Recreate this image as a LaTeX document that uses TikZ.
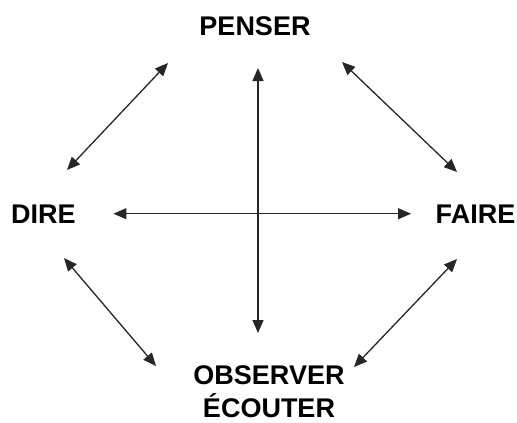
\documentclass[tikz,border=0pt]{standalone}
\usepackage{fontspec}
\setmainfont{Liberation Sans}
\usetikzlibrary{arrows.meta}

\begin{document}
\begin{tikzpicture}[x=1pt, y=-1pt,
    word/.style={font=\fontsize{27}{33}\selectfont\bfseries, inner sep=0pt, anchor=base, align=center},
    link/.style={line width=1.3pt, black!85, {Triangle[length=13pt,width=11pt]}-{Triangle[length=13pt,width=11pt]}}]
                    \useasboundingbox (0,0) rectangle (517,423);

                    \node[word] (penser) at (255,35) {PENSER};
                    \node[word] (dire) at (43.5,223) {DIRE};
                    \node[word] (faire) at (475.5,223) {FAIRE};
                    \node[word] (observer) at (269,417) {OBSERVER\\ÉCOUTER};

                    \coordinate (vtop) at (258,68);
                    \coordinate (vbot) at (258,333);
                    \coordinate (dp1) at (67,170);
                    \coordinate (dp2) at (168,63);
                    \coordinate (pf1) at (342,62);
                    \coordinate (pf2) at (457,172);
                    \coordinate (do1) at (64,258);
                    \coordinate (do2) at (156,366);
                    \coordinate (fo1) at (457,259);
                    \coordinate (fo2) at (354,367);

                    \draw[link, shorten <=37.5pt, shorten >=24.5pt] (dire.east) -- (faire.west);
                    \draw[link] (vtop) -- (vbot);
                    \draw[link] (dp1) -- (dp2);
                    \draw[link] (pf1) -- (pf2);
                    \draw[link] (do1) -- (do2);
                    \draw[link] (fo1) -- (fo2);
                \end{tikzpicture}
\end{document}
